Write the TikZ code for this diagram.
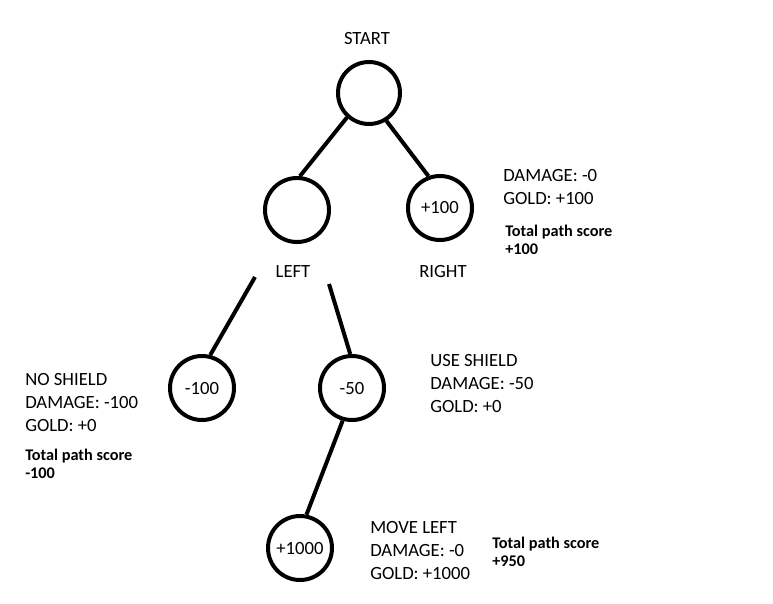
\documentclass[tikz,border=0pt]{standalone}
\usepackage{fontspec}
\setmainfont{Carlito}
\usepackage{tikz}
\tikzset{
	choice/.style={draw, circle, line width=3pt, minimum size=48pt, inner sep=0pt, font=\fontsize{14}{17.25}\selectfont},
	tag/.style={inner sep=0pt, font=\fontsize{14}{17.25}\selectfont},
	info/.style={anchor=west, inner sep=0pt, align=left, font=\fontsize{14}{17.25}\selectfont},
	score/.style={anchor=west, inner sep=0pt, align=left, font=\fontsize{12.2}{13.5}\selectfont\bfseries},
	branch/.style={line width=3pt}
}

\begin{document}
\begin{tikzpicture}[x=0.75pt, y=-0.75pt]
			%%%%% START %%%%%
			\useasboundingbox (0, 0) rectangle (773, 603);
			
			\node[tag] (starttag) at (367, 39) {START};
			\node[choice, minimum size=46.5pt] (start) at (369, 93) {};
			
			\node[choice] (left) at (297, 210) {};
			\node[choice] (right) at (440, 208) {+100};
			\node[tag] (lefttag) at (293, 272) {LEFT};
			\node[tag] (righttag) at (443, 272) {RIGHT};
			
			\draw[branch] (start.228) -- (left.85);
			\draw[branch] (start.302) -- (right.110);
			
			\node[info] (rightinfo) at (503, 187.5) {DAMAGE: -0\\GOLD: +100};
			\node[score] (rightscore) at (505, 240) {Total path score\\+100};
			
			\node[choice] (noshield) at (202, 388) {-100};
			\node[choice] (useshield) at (352, 388) {-50\hspace{4pt}};
			\coordinate (leftout) at (255, 277);
			\coordinate (rightout) at (329, 284);
			\draw[branch] (leftout) -- (noshield.76);
			\draw[branch] (rightout) -- (useshield.93);
			
			\node[info] (noinfo) at (25, 403) {NO SHIELD\\DAMAGE: -100\\GOLD: +0};
			\node[score] (noscore) at (25, 463.5) {Total path score\\-100};
			\node[info] (useinfo) at (430, 383.5) {USE SHIELD\\DAMAGE: -50\\GOLD: +0};
			
			\node[choice] (moveleft) at (300, 548) {+1000};
			\draw[branch] (useshield.254) -- (moveleft.79);
			
			\node[info] (moveinfo) at (370, 551) {MOVE LEFT\\DAMAGE: -0\\GOLD: +1000};
			\node[score] (movescore) at (492, 551.5) {Total path score\\+950};
			
			%%%%% END %%%%%
\end{tikzpicture}
\end{document}
